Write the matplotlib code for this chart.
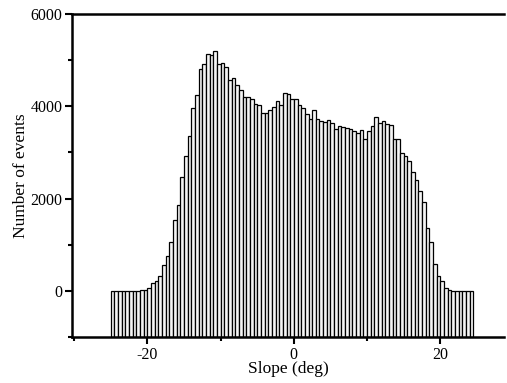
import matplotlib
matplotlib.use("Agg")
import matplotlib.pyplot as plt
import numpy as np
from matplotlib.ticker import MultipleLocator

plt.rcParams['font.family'] = ['Liberation Serif', 'DejaVu Serif']
plt.rcParams['axes.unicode_minus'] = False

bin_start = -25.0
bin_width = 0.5
counts = [
    5, 5, 5, 5, 5, 5, 5, 5, 10, 20, 58, 160, 217, 326, 565, 746,
    1065, 1536, 1862, 2478, 2913, 3348, 3964, 4254, 4804, 4913, 5138, 5116, 5188, 4913,
    4935, 4855, 4565,
    4616, 4471, 4362, 4202, 4202, 4166, 4057, 4022, 3862, 3862, 3928, 3985, 4109, 4022,
    4297, 4275, 4152, 4152, 4036, 3964, 3826, 3732, 3913, 3732, 3674, 3660, 3710, 3645,
    3515, 3573, 3551, 3529,
    3515, 3457, 3420, 3493, 3297, 3464, 3565, 3768, 3638, 3674, 3609, 3587, 3283, 3283,
    2985, 2913, 2811, 2572, 2406, 2159, 1920, 1362, 1051, 580, 326, 203, 72, 15,
    5, 5, 5, 5, 5, 5,
]
edges = bin_start + bin_width * np.arange(len(counts))

fig = plt.figure(figsize=(5.07, 3.83), dpi=100)
ax = fig.add_axes([72/507, 1-337/383, (504-72)/507, (337-14)/383])

ymin = -1000
ax.bar(edges, np.array(counts) - ymin, bottom=ymin, width=bin_width, align='edge',
       color='#f4f4f4', edgecolor='black', linewidth=0.9)

ax.set_xlim(-30.3, 28.7)
ax.set_ylim(-1000, 6000)
ax.xaxis.set_major_locator(MultipleLocator(20))
ax.xaxis.set_minor_locator(MultipleLocator(10))
ax.yaxis.set_major_locator(MultipleLocator(2000))
ax.yaxis.set_minor_locator(MultipleLocator(1000))
ax.tick_params(which='both', direction='out', width=1.5, labelsize=11.5)
ax.tick_params(which='major', length=5, pad=2)
ax.tick_params(which='minor', length=3)

for s in ['left', 'bottom', 'top']:
    ax.spines[s].set_linewidth(1.8)
ax.spines['right'].set_visible(False)

ax.set_xlabel('Slope (deg)', fontsize=12.5, labelpad=-1)
ax.set_ylabel('Number of events', fontsize=12.5, labelpad=1)

fig.savefig('out.png', dpi=100)
